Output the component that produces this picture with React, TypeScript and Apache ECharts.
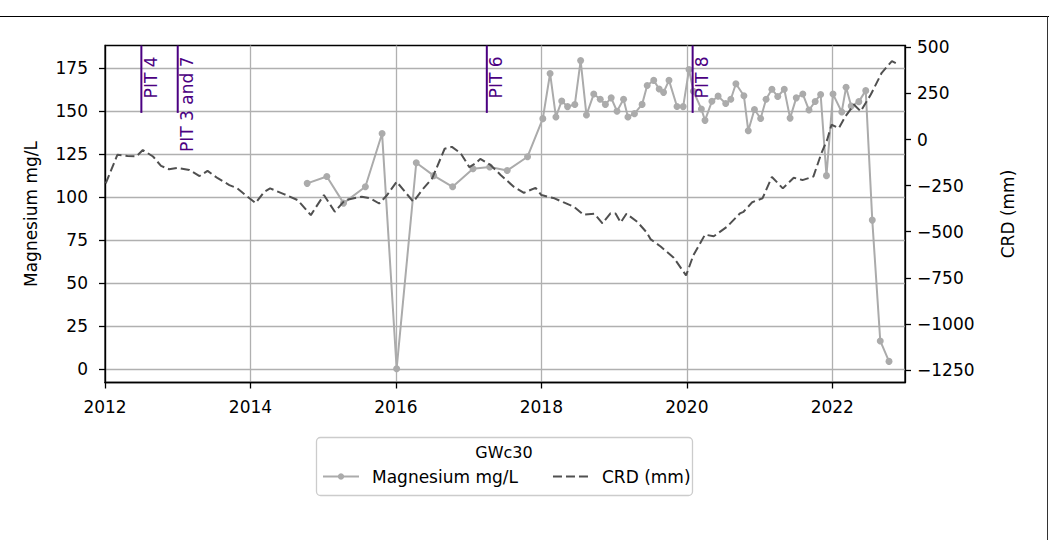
import React, { useEffect, useRef } from 'react';
import * as echarts from 'echarts';

// ---- Data (decimal years) ----
const mgYears = [
  2014.78, 2015.05, 2015.28, 2015.58, 2015.81, 2016.01, 2016.28, 2016.52, 2016.78, 2017.06,
  2017.29, 2017.53, 2017.81, 2018.02, 2018.12, 2018.2, 2018.28, 2018.36, 2018.46, 2018.54,
  2018.62, 2018.72, 2018.81, 2018.88, 2018.96, 2019.04, 2019.13, 2019.19, 2019.28, 2019.385,
  2019.455, 2019.545, 2019.62, 2019.68, 2019.755, 2019.865, 2019.95, 2020.03, 2020.09, 2020.2,
  2020.25, 2020.345, 2020.43, 2020.535, 2020.605, 2020.675, 2020.785, 2020.845, 2020.93, 2021.015,
  2021.09, 2021.17, 2021.25, 2021.34, 2021.42, 2021.505, 2021.595, 2021.68, 2021.765, 2021.84,
  2021.92, 2022.01, 2022.13, 2022.19, 2022.26, 2022.365, 2022.46, 2022.55, 2022.66, 2022.78,
];
const mgValues = [
  108, 112, 96.5, 106, 137, 0, 120, 112.5, 106, 116.5,
  117.5, 115.5, 123.5, 145.7, 172, 146.7, 156, 152.7, 153.9, 179.5,
  147.8, 160, 157, 154, 157.8, 150, 157, 146.7, 148.6, 154,
  165, 168, 163, 161, 168, 152.8, 152.7, 174.3, 161.7, 151.3,
  144.7, 155.8, 158.8, 154.5, 157, 166, 159, 138.6, 151, 145.8,
  157, 162.8, 158.6, 162.8, 146, 157.8, 160, 150.7, 155.7, 159.8,
  112.5, 160, 149.6, 164, 153, 155.6, 162, 86.6, 16.2, 4.3,
];

const crdYears = [
  2012.01, 2012.17, 2012.31, 2012.43, 2012.52, 2012.66, 2012.77, 2012.88, 2013.0, 2013.16,
  2013.3, 2013.41, 2013.55, 2013.71, 2013.82, 2013.96, 2014.07, 2014.19, 2014.27, 2014.46,
  2014.65, 2014.83, 2015.01, 2015.16, 2015.3, 2015.53, 2015.65, 2015.77, 2015.88, 2016.01,
  2016.24, 2016.36, 2016.5, 2016.67, 2016.77, 2016.89, 2017.01, 2017.1, 2017.16, 2017.3,
  2017.44, 2017.62, 2017.76, 2017.92, 2018.0, 2018.18, 2018.3, 2018.45, 2018.58, 2018.73,
  2018.84, 2018.95, 2019.02, 2019.09, 2019.17, 2019.32, 2019.45, 2019.5, 2019.64, 2019.82,
  2019.99, 2020.09, 2020.25, 2020.37, 2020.55, 2020.73, 2020.78, 2020.9, 2021.04, 2021.17,
  2021.32, 2021.47, 2021.59, 2021.74, 2021.85, 2021.93, 2021.99, 2022.09, 2022.18, 2022.3,
  2022.39, 2022.53, 2022.68, 2022.82, 2022.91,
];
const crdValues = [
  -238, -83, -89, -92, -57, -92, -143, -161, -154, -165,
  -198, -170, -210, -247, -265, -310, -345, -283, -265, -296,
  -329, -410, -301, -392, -329, -310, -319, -347, -301, -229,
  -338, -274, -210, -50, -40, -74, -150, -128, -105, -138,
  -192, -256, -289, -262, -301, -319, -340, -365, -408, -403,
  -455, -400, -401, -450, -403, -447, -505, -540, -580, -641,
  -737, -628, -516, -525, -474, -401, -392, -340, -319, -203,
  -265, -207, -220, -201, -75, -1, 80, 62, 125, 189,
  153, 244, 362, 425, 407,
];

const pitYears = [2012.5, 2013.0, 2017.25, 2020.08];
const pitLabels = ['PIT 4', 'PIT 3 and 7', 'PIT 6', 'PIT 8'];

const xTickValues = [2012, 2014, 2016, 2018, 2020, 2022];
const mgTickValues = [0, 25, 50, 75, 100, 125, 150, 175];
const crdTickValues = [-1250, -1000, -750, -500, -250, 0, 250, 500];

const MG_MIN = -8;
const MG_MAX = 188.3;
const CRD_MIN = -1318;
const CRD_MAX = 510;

const FONT = 'DejaVu Sans';

export default function App() {
  const ref = useRef<HTMLDivElement>(null);

  useEffect(() => {
    document.body.style.margin = '0';
    const chart = echarts.init(ref.current!, null, { renderer: 'svg' });

    const label = { fontFamily: FONT, fontSize: 17, color: '#000' };
    const axisLineStyle = { color: '#000', width: 1.3 };
    const minus = (v: number) => String(v).replace('-', '\u2212');

    const option: any = {
      animation: false,
      backgroundColor: '#fff',
      grid: {
        left: 105,
        right: 144,
        top: 45.5,
        bottom: 157.5,
        containLabel: false,
        show: true,
        borderColor: '#000',
        borderWidth: 1.3,
        backgroundColor: 'transparent',
      },
      legend: {
        data: [
          'Magnesium mg/L',
          { name: 'CRD (mm)', itemStyle: { opacity: 0, borderWidth: 0 } },
        ],
        left: 322,
        top: 468,
        padding: 0,
        itemWidth: 36,
        itemHeight: 8,
        itemGap: 34,
        textStyle: { ...label, padding: [0, 0, 0, 8] },
      },
      xAxis: {
        type: 'value',
        min: 2012,
        max: 2023,
        interval: 2,
        axisLine: { show: true, onZero: false, lineStyle: axisLineStyle },
        axisTick: { show: true, length: 6, lineStyle: axisLineStyle, customValues: xTickValues },
        axisLabel: { ...label, margin: 16, customValues: xTickValues, formatter: (v: number) => String(v) },
        splitLine: { show: true, lineStyle: { color: '#b0b0b0', width: 1.3 } },
      },
      yAxis: [
        {
          type: 'value',
          position: 'left',
          min: MG_MIN,
          max: MG_MAX,
          minInterval: 25,
          maxInterval: 25,
          name: 'Magnesium mg/L',
          nameLocation: 'middle',
          nameRotate: 90,
          nameGap: 66,
          nameTextStyle: label,
          axisLine: { show: true, onZero: false, lineStyle: axisLineStyle },
          axisTick: { show: true, length: 6, lineStyle: axisLineStyle, customValues: mgTickValues },
          axisLabel: { ...label, margin: 17, customValues: mgTickValues },
          splitLine: { show: true, lineStyle: { color: '#b0b0b0', width: 1.3 } },
        },
        {
          type: 'value',
          position: 'right',
          min: CRD_MIN,
          max: CRD_MAX,
          minInterval: 250,
          maxInterval: 250,
          name: 'CRD (mm)',
          nameLocation: 'middle',
          nameRotate: 90,
          nameGap: 94,
          nameTextStyle: label,
          axisLine: { show: true, onZero: false, lineStyle: axisLineStyle },
          axisTick: { show: true, length: 6, lineStyle: axisLineStyle, customValues: crdTickValues },
          axisLabel: { ...label, margin: 12, customValues: crdTickValues, formatter: minus },
          splitLine: { show: false },
        },
      ],
      series: [
        {
          name: 'Magnesium mg/L',
          type: 'line',
          yAxisIndex: 0,
          data: mgYears.map((y, i) => [y, mgValues[i]]),
          symbol: 'circle',
          symbolSize: 7,
          itemStyle: { color: '#ababab' },
          lineStyle: { color: '#ababab', width: 2 },
          z: 2,
        },
        {
          name: 'CRD (mm)',
          type: 'line',
          yAxisIndex: 1,
          data: crdYears.map((y, i) => [y, crdValues[i]]),
          symbol: 'none',
          showSymbol: false,
          itemStyle: { color: '#505050' },
          lineStyle: { color: '#505050', width: 2, type: [9, 4] },
          z: 3,
        },
      ],
    };

    chart.setOption(option);

    const yTop = chart.convertToPixel({ yAxisIndex: 0 }, MG_MAX) as number;
    const yLow = chart.convertToPixel({ yAxisIndex: 0 }, MG_MIN + 0.8 * (MG_MAX - MG_MIN)) as number;

    const pitElements: any[] = [];
    pitYears.forEach((yr, i) => {
      const px = chart.convertToPixel({ xAxisIndex: 0 }, yr) as number;
      pitElements.push({
        type: 'line',
        shape: { x1: px, y1: yLow, x2: px, y2: yTop },
        style: { stroke: '#4B0082', lineWidth: 2 },
        z: 10,
      });
      pitElements.push({
        type: 'text',
        x: px + 1,
        y: yTop + 11,
        rotation: Math.PI / 2,
        style: {
          text: pitLabels[i],
          fill: '#4B0082',
          fontFamily: FONT,
          fontSize: 17,
          align: 'right',
          verticalAlign: 'top',
        },
        z: 10,
      });
    });

    chart.setOption({
      graphic: [
        {
          type: 'line',
          shape: { x1: 0, y1: 16.5, x2: 1049, y2: 16.5 },
          style: { stroke: '#000', lineWidth: 1 },
        },
        {
          type: 'line',
          shape: { x1: 1047.5, y1: 16, x2: 1047.5, y2: 540 },
          style: { stroke: '#333', lineWidth: 1 },
        },
        {
          type: 'rect',
          shape: { x: 316.5, y: 437.5, width: 376, height: 58, r: 4 },
          style: { fill: 'none', stroke: '#cccccc', lineWidth: 1.3 },
          z: 0,
        },
        {
          type: 'text',
          x: 504,
          y: 452,
          style: {
            text: 'GWc30',
            fill: '#000',
            fontFamily: FONT,
            fontSize: 16,
            align: 'center',
            verticalAlign: 'middle',
          },
        },
        ...pitElements,
      ],
    });

    return () => {
      chart.dispose();
    };
  }, []);

  return (
    <div
      ref={ref}
      style={{ position: 'fixed', left: 0, top: 0, width: 1049, height: 540, background: '#fff' }}
    />
  );
}
